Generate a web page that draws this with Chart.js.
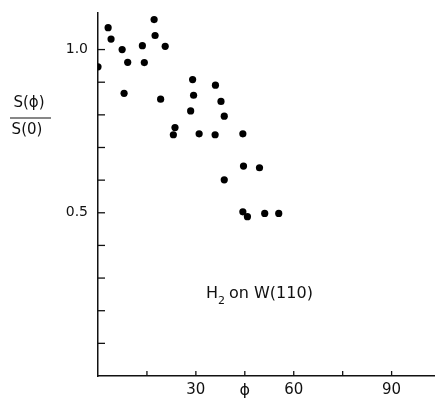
<!DOCTYPE html>
<html>
<head>
<meta charset="utf-8">
<script src="https://cdn.jsdelivr.net/npm/chart.js@4.4.1/dist/chart.umd.min.js"></script>
<style>
  body { margin: 0; background: #fff; }
</style>
</head>
<body>
<canvas id="scatterChart" width="435" height="407"></canvas>
<script>
// angle phi (degrees) and S(phi)/S(0)
const phi = [0, 3.1, 4.0, 7.4, 9.1, 8.0, 13.6, 14.2, 17.2, 17.5, 20.6, 19.2,
    23.6, 23.1, 29.0, 29.3, 28.4, 31.0, 35.9, 36.0, 37.7, 38.7, 44.4, 44.6,
    49.5, 38.7, 44.4, 45.8, 51.1, 55.4];
const ratio = [0.947, 1.067, 1.032, 1.000, 0.961, 0.866, 1.012, 0.960, 1.092, 1.043, 1.010, 0.848,
    0.761, 0.739, 0.908, 0.860, 0.812, 0.742, 0.739, 0.891, 0.841, 0.796, 0.742, 0.643,
    0.638, 0.601, 0.503, 0.488, 0.498, 0.498];
const yLabels = { "0.5": "0.5", "1": "1.0" };
const xLabels = [30, 60, 90];

const FONT = "'DejaVu Sans', sans-serif";
const INK = "#111";

// inward tick marks + texts that chart.js can't place the way the figure does
const overlay = {
    id: "overlay",
    afterDraw(chart) {
        const { ctx, scales: { x, y } } = chart;
        ctx.save();
        ctx.strokeStyle = INK;
        ctx.lineWidth = 1.3;
        x.ticks.forEach(t => {
            if (t.value <= 0 || t.value > 95) return;
            const px = x.getPixelForValue(t.value);
            ctx.beginPath();
            ctx.moveTo(px, y.bottom);
            ctx.lineTo(px, y.bottom - 5);
            ctx.stroke();
        });
        y.ticks.forEach(t => {
            if (t.value <= 0 || t.value > 1.05) return;
            const py = y.getPixelForValue(t.value);
            ctx.beginPath();
            ctx.moveTo(x.left, py);
            ctx.lineTo(x.left + 7, py);
            ctx.stroke();
        });

        ctx.fillStyle = INK;
        ctx.textBaseline = "middle";

        // x title sits in the 45 slot
        ctx.textAlign = "center";
        ctx.font = "16px " + FONT;
        ctx.fillText("ϕ", x.getPixelForValue(45), 391);

        // y title as a fraction
        ctx.font = "15px " + FONT;
        ctx.fillText("S(ϕ)", 29, 103);
        ctx.fillText("S(0)", 27, 130);
        ctx.lineWidth = 1.2;
        ctx.beginPath();
        ctx.moveTo(10, 118);
        ctx.lineTo(51, 118);
        ctx.stroke();

        // annotation
        ctx.textAlign = "left";
        ctx.textBaseline = "alphabetic";
        let tx = 206;
        ctx.font = "16px " + FONT;
        ctx.fillText("H", tx, 298);
        tx += ctx.measureText("H").width;
        ctx.font = "11px " + FONT;
        ctx.fillText("2", tx, 304);
        tx += ctx.measureText("2").width + 4;
        ctx.font = "16px " + FONT;
        ctx.fillText("on W(110)", tx, 298);
        ctx.restore();
    }
};

const ctx = document.getElementById("scatterChart").getContext("2d");

const chart = new Chart(ctx, {
    type: "scatter",
    data: {
        datasets: [{
            label: "H2 on W(110)",
            data: phi.map((p, i) => ({ x: p, y: ratio[i] })),
            backgroundColor: "#000",
            borderColor: "#000",
            pointRadius: 3.6,
            pointBorderWidth: 0
        }]
    },
    options: {
        responsive: false,
        animation: false,
        layout: { autoPadding: false, padding: { top: 13, left: 0, right: 0, bottom: 0 } },
        plugins: {
            legend: { display: false },
            tooltip: { enabled: false }
        },
        scales: {
            x: {
                type: "linear",
                min: 0,
                max: 103.3,
                afterFit: scale => {
                    scale.height = 31;
                    scale.paddingLeft = 0;
                    scale.paddingRight = 0;
                },
                grid: { display: false, drawTicks: false },
                border: { display: true, color: INK, width: 1.5 },
                ticks: {
                    stepSize: 15,
                    includeBounds: false,
                    padding: 5,
                    color: INK,
                    font: { family: FONT, size: 15 },
                    autoSkip: false,
                    maxRotation: 0,
                    callback: v => xLabels.includes(Math.round(v)) ? String(Math.round(v)) : ""
                }
            },
            y: {
                type: "linear",
                min: 0,
                max: 1.112,
                afterFit: scale => {
                    scale.width = 98;
                    scale.paddingTop = 0;
                    scale.paddingBottom = 0;
                },
                grid: { display: false, drawTicks: false },
                border: { display: true, color: INK, width: 1.5 },
                ticks: {
                    stepSize: 0.1,
                    includeBounds: false,
                    padding: 10,
                    color: INK,
                    font: { family: FONT, size: 14 },
                    autoSkip: false,
                    callback: v => yLabels[String(Math.round(v * 10) / 10)] || ""
                }
            }
        }
    },
    plugins: [overlay]
});
</script>
</body>
</html>
